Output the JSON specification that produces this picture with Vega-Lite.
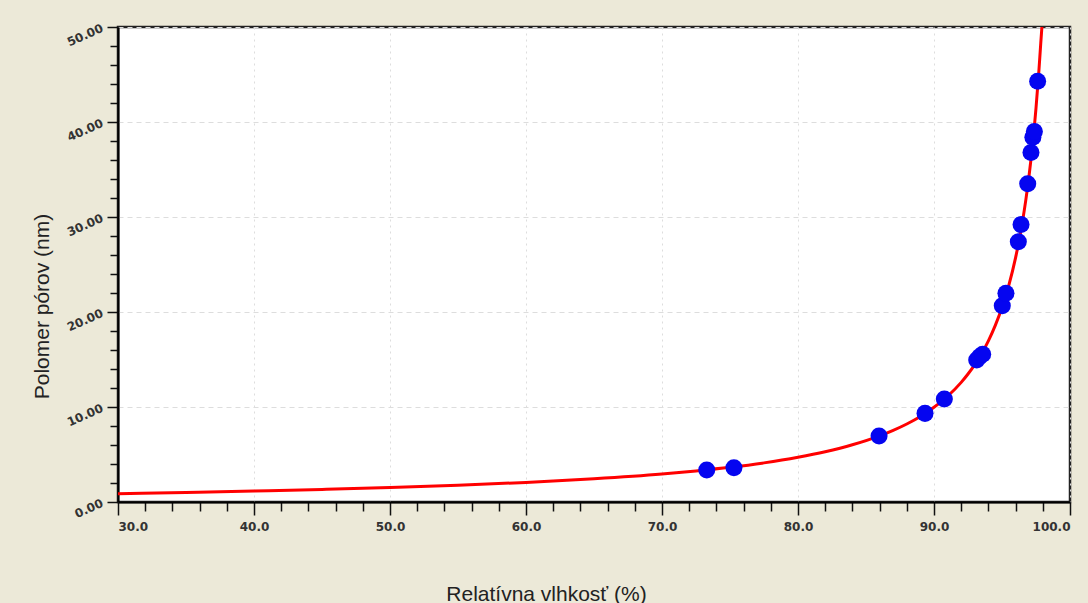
{
  "$schema": "https://vega.github.io/schema/vega-lite/v6.json",
  "width": 952,
  "height": 475,
  "autosize": "none",
  "padding": {"left": 118, "top": 27, "right": 18, "bottom": 101},
  "background": "#ECE9D8",
  "config": {
    "view": {"fill": "#ffffff", "stroke": "#222222", "strokeWidth": 2.5}
  },
  "datasets": {
    "curve": [
      {"rh": 30, "r": 0.87}, {"rh": 35, "r": 1.0}, {"rh": 40, "r": 1.15}, {"rh": 45, "r": 1.32},
      {"rh": 50, "r": 1.52}, {"rh": 55, "r": 1.76}, {"rh": 60, "r": 2.06}, {"rh": 65, "r": 2.44},
      {"rh": 70, "r": 2.94}, {"rh": 72.5, "r": 3.27}, {"rh": 75, "r": 3.65}, {"rh": 77.5, "r": 4.12},
      {"rh": 80, "r": 4.71}, {"rh": 82, "r": 5.29}, {"rh": 84, "r": 6.02}, {"rh": 86, "r": 6.96},
      {"rh": 87, "r": 7.54}, {"rh": 88, "r": 8.21}, {"rh": 89, "r": 9.0}, {"rh": 90, "r": 9.97},
      {"rh": 91, "r": 11.13}, {"rh": 92, "r": 12.59}, {"rh": 92.5, "r": 13.47}, {"rh": 93, "r": 14.46},
      {"rh": 93.5, "r": 15.62}, {"rh": 94, "r": 16.97}, {"rh": 94.5, "r": 18.57}, {"rh": 95, "r": 20.47},
      {"rh": 95.5, "r": 22.8}, {"rh": 96, "r": 25.73}, {"rh": 96.25, "r": 27.47}, {"rh": 96.5, "r": 29.47},
      {"rh": 96.75, "r": 31.78}, {"rh": 97, "r": 34.47}, {"rh": 97.25, "r": 37.65}, {"rh": 97.5, "r": 41.47},
      {"rh": 97.7, "r": 45.12}, {"rh": 97.85, "r": 48.3}, {"rh": 97.935, "r": 50.0}
    ],
    "points": [
      {"rh": 73.29, "r": 3.37}, {"rh": 75.29, "r": 3.61}, {"rh": 85.96, "r": 6.95},
      {"rh": 89.34, "r": 9.33}, {"rh": 90.76, "r": 10.84},
      {"rh": 93.14, "r": 14.95}, {"rh": 93.35, "r": 15.3}, {"rh": 93.58, "r": 15.55},
      {"rh": 95.02, "r": 20.66}, {"rh": 95.29, "r": 21.97},
      {"rh": 96.2, "r": 27.4}, {"rh": 96.4, "r": 29.2}, {"rh": 96.89, "r": 33.5},
      {"rh": 97.13, "r": 36.8}, {"rh": 97.27, "r": 38.4}, {"rh": 97.38, "r": 39.0},
      {"rh": 97.62, "r": 44.3}
    ]
  },
  "encoding": {
    "x": {
      "field": "rh", "type": "quantitative",
      "scale": {"domain": [30, 100], "nice": false, "zero": false},
      "axis": {
        "title": "Relatívna vlhkosť (%)",
        "values": [30,32,34,36,38,40,42,44,46,48,50,52,54,56,58,60,62,64,66,68,70,72,74,76,78,80,82,84,86,88,90,92,94,96,98,100],
        "labelExpr": "datum.value % 10 === 0 ? format(datum.value, '.1f') : ''",
        "labelOverlap": false,
        "labelFont": "DejaVu Sans", "labelFontWeight": "bold", "labelFontSize": 12, "labelColor": "#333333",
        "labelPadding": 6,
        "domainColor": "#000000", "domainWidth": 2,
        "tickColor": "#111111", "tickWidth": 1.5,
        "tickSize": {"condition": {"test": "datum.value % 10 === 0", "value": 13}, "value": 9},
        "grid": true,
        "gridColor": "#dddddd", "gridDash": [2, 4], "gridWidth": 1,
        "gridOpacity": {"condition": {"test": "datum.value % 10 === 0", "value": 1}, "value": 0},
        "titleFont": "Liberation Sans", "titleFontSize": 21, "titleFontWeight": "normal", "titleColor": "#222222",
        "titleX": 428, "titleY": 98, "titleAlign": "center", "titleBaseline": "alphabetic"
      }
    },
    "y": {
      "field": "r", "type": "quantitative",
      "scale": {"domain": [0, 50], "nice": false},
      "axis": {
        "title": "Polomer pórov (nm)",
        "values": [0,2,4,6,8,10,12,14,16,18,20,22,24,26,28,30,32,34,36,38,40,42,44,46,48,50],
        "labelExpr": "datum.value % 10 === 0 ? format(datum.value, '.2f') : ''",
        "labelOverlap": false,
        "labelAngle": -24,
        "labelFont": "DejaVu Sans", "labelFontWeight": "bold", "labelFontSize": 12, "labelColor": "#333333",
        "labelPadding": 5,
        "domainColor": "#000000", "domainWidth": 2,
        "tickColor": "#111111", "tickWidth": 1.5,
        "tickSize": {"condition": {"test": "datum.value % 10 === 0", "value": 11}, "value": 8},
        "grid": true,
        "gridColor": "#dddddd", "gridDash": [5, 4], "gridWidth": 1,
        "gridOpacity": {"condition": {"test": "datum.value % 10 === 0", "value": 1}, "value": 0},
        "titleFont": "Liberation Sans", "titleFontSize": 21, "titleFontWeight": "normal", "titleColor": "#222222",
        "titleX": -76, "titleY": 279, "titleAngle": -90, "titleAlign": "center", "titleBaseline": "middle"
      }
    }
  },
  "layer": [
    {
      "data": {"name": "curve"},
      "mark": {"type": "line", "color": "#ff0000", "strokeWidth": 3, "clip": true, "interpolate": "monotone"}
    },
    {
      "data": {"name": "points"},
      "mark": {"type": "point", "filled": true, "color": "#0505f0", "opacity": 1, "size": 290, "shape": "circle"}
    }
  ]
}
